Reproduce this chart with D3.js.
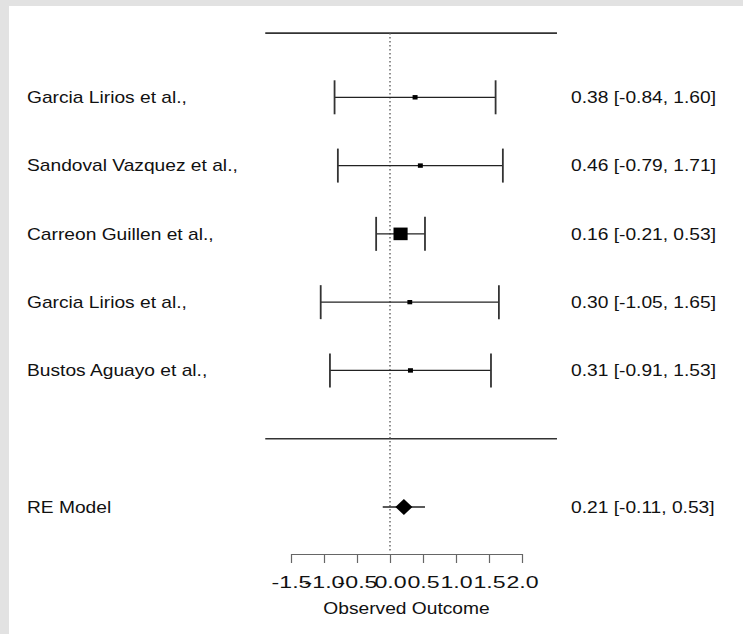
<!DOCTYPE html>
<html><head><meta charset="utf-8">
<script src="https://cdn.jsdelivr.net/npm/d3@7"></script>
<style>body{margin:0;background:#fff;} svg{display:block;} text{font-family:"Liberation Sans",Arial,Helvetica,sans-serif;fill:#111;}</style>
</head><body><svg id="c" width="743" height="634"></svg>
<script>
// ---- data ----
const studies = ["Garcia Lirios et al.,", "Sandoval Vazquez et al.,", "Carreon Guillen et al.,", "Garcia Lirios et al.,", "Bustos Aguayo et al.,"];
const estimates = [0.38, 0.46, 0.16, 0.30, 0.31];
const lowerCI = [-0.84, -0.79, -0.21, -1.05, -0.91];
const upperCI = [1.60, 1.71, 0.53, 1.65, 1.53];
const weights = [6.8, 6.5, 74.2, 5.6, 6.8];
const summaryLabel = ["RE Model"];
const summaryEst = [0.21];
const summaryLower = [-0.11];
const summaryUpper = [0.53];
const tickValues = [-1.5, -1.0, -0.5, 0.0, 0.5, 1.0, 1.5, 2.0];
const xTitle = "Observed Outcome";

// ---- layout ----
const W = 743, H = 634;
const svg = d3.select("#c");
svg.append("rect").attr("width", W).attr("height", H).attr("fill", "#e2e2e2");
svg.append("rect").attr("x", 9).attr("y", 6).attr("width", W - 9).attr("height", H - 6).attr("fill", "#fff");

const x = d3.scaleLinear().domain([-1.5, 2.0]).range([291, 522]);
const k = studies.length;
const y = d3.scaleLinear().domain([k, -1]).range([97.3, 507]);
const FS = 16, SX = 1.2;
const lineCol = "#222";

const rows = studies.map((s, i) => ({name: s, est: estimates[i], lo: lowerCI[i], hi: upperCI[i], w: weights[i], row: k - i}));
const size = d3.scaleLinear().domain(d3.extent(weights)).range([4.3, 12.6]);

// horizontal rules
const ruleExtent = [-1.89, 2.53];
[k + 0.94, 0].forEach(r => {
  svg.append("line").attr("x1", x(ruleExtent[0])).attr("x2", x(ruleExtent[1]))
    .attr("y1", y(r)).attr("y2", y(r)).attr("stroke", "#333").attr("stroke-width", 1.6);
});

// reference dotted line
svg.append("line").attr("x1", x(0)).attr("x2", x(0)).attr("y1", y(k + 0.94)).attr("y2", 552)
  .attr("stroke", "#555").attr("stroke-width", 1.3).attr("stroke-dasharray", "1.3,2.7");

// CIs
const g = svg.append("g");
rows.forEach(d => {
  const yy = y(d.row);
  g.append("line").attr("x1", x(d.lo)).attr("x2", x(d.hi)).attr("y1", yy).attr("y2", yy)
    .attr("stroke", lineCol).attr("stroke-width", 1.3);
  [d.lo, d.hi].forEach(v => g.append("line").attr("x1", x(v)).attr("x2", x(v))
    .attr("y1", yy - 17).attr("y2", yy + 17).attr("stroke", "#333").attr("stroke-width", 1.8));
  const s = size(d.w);
  g.append("rect").attr("x", x(d.est) - s * 1.12 / 2).attr("y", yy - s / 2)
    .attr("width", s * 1.12).attr("height", s).attr("fill", "#000");
});

function txt(str, tx, ty, anchor) {
  svg.append("text").attr("transform", `translate(${tx},${ty}) scale(${SX},1)`)
    .attr("font-size", FS).attr("text-anchor", anchor || "start").text(str);
}
rows.forEach(d => {
  const yy = y(d.row);
  txt(d.name, 27, yy + 5.8);
  txt(`${d.est.toFixed(2)} [${d.lo.toFixed(2)}, ${d.hi.toFixed(2)}]`, 571, yy + 5.8);
});

// summary
summaryLabel.forEach((lab, i) => {
  const yy = y(-1);
  svg.append("line").attr("x1", x(summaryLower[i])).attr("x2", x(summaryUpper[i])).attr("y1", yy).attr("y2", yy)
    .attr("stroke", lineCol).attr("stroke-width", 1.3);
  const cx = x(summaryEst[i]), hw = 8.5, hh = 8;
  svg.append("path").attr("d", `M${cx - hw},${yy}L${cx},${yy - hh}L${cx + hw},${yy}L${cx},${yy + hh}Z`).attr("fill", "#000");
  txt(lab, 27, yy + 5.8);
  txt(`${summaryEst[i].toFixed(2)} [${summaryLower[i].toFixed(2)}, ${summaryUpper[i].toFixed(2)}]`, 571, yy + 5.8);
});

// axis
const ax = svg.append("g").attr("transform", "translate(0,554)")
  .call(d3.axisBottom(x).tickValues(tickValues).tickSize(9).tickSizeOuter(0).tickPadding(13)
    .tickFormat(d => d.toFixed(1)));
ax.attr("font-family", null).attr("font-size", null);
ax.select(".domain").attr("stroke", "#666").attr("stroke-width", 1.2);
ax.selectAll(".tick line").attr("stroke", "#666").attr("stroke-width", 1.2);
ax.selectAll(".tick text").attr("font-size", 17).attr("fill", "#111").attr("transform", "scale(1.36,1)");

txt(xTitle, (x(-1.5) + x(2.0)) / 2, 614, "middle");
</script></body></html>
